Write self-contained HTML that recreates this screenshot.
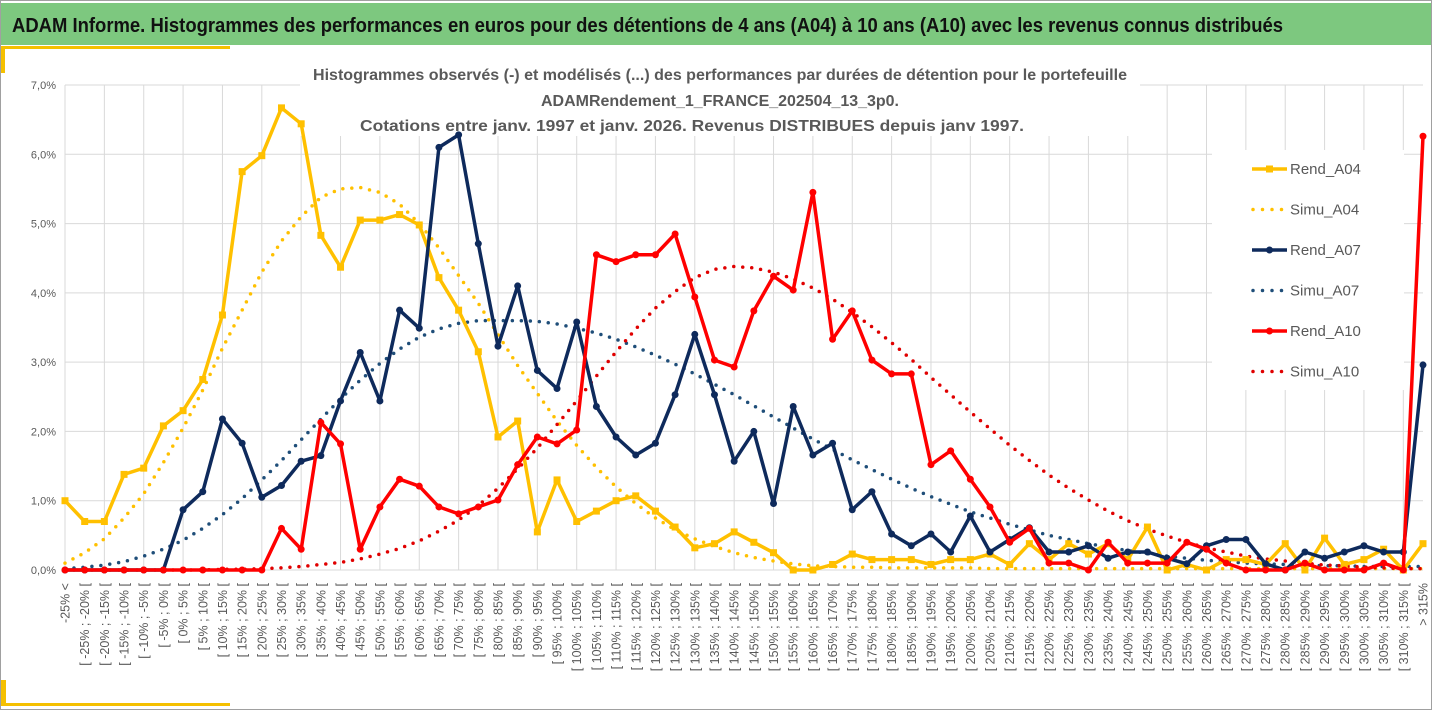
<!DOCTYPE html>
<html><head><meta charset="utf-8"><style>
html,body{margin:0;padding:0;background:#fff;}
svg{display:block;font-family:"Liberation Sans",sans-serif;}
</style></head><body>
<svg id="chart" width="1432" height="710" viewBox="0 0 1432 710">
<rect x="0.5" y="0.5" width="1431" height="709" fill="#fff" stroke="#a0a0a0"/>
<rect x="1" y="3" width="1430" height="42" fill="#7dc87f"/>
<text x="12" y="32" font-size="20" font-weight="bold" fill="#111" textLength="1271" lengthAdjust="spacingAndGlyphs">ADAM Informe. Histogrammes des performances en euros pour des détentions de 4 ans (A04) à 10 ans (A10) avec les revenus connus distribués</text>
<rect x="1" y="46" width="229" height="3" fill="#f5c000"/>
<rect x="1" y="46" width="4" height="27" fill="#f5c000"/>
<rect x="1" y="703" width="229" height="3" fill="#f5c000"/>
<rect x="1" y="680" width="5" height="26" fill="#f5c000"/>
<g id="grid"></g>
<g id="yaxis"></g>
<g id="xaxis"></g>
<rect x="300" y="60" width="840" height="76" fill="#fff"/>
<g fill="#595959" font-weight="bold" font-size="16" text-anchor="start">
<text x="313" y="80" textLength="814" lengthAdjust="spacingAndGlyphs">Histogrammes observés (-) et modélisés (...) des performances par durées de détention pour le portefeuille</text>
<text x="541" y="106" textLength="358" lengthAdjust="spacingAndGlyphs">ADAMRendement_1_FRANCE_202504_13_3p0.</text>
<text x="360" y="131" textLength="664" lengthAdjust="spacingAndGlyphs">Cotations entre janv. 1997 et janv. 2026. Revenus DISTRIBUES depuis janv 1997.</text>
</g>
<rect x="1212" y="150" width="192" height="240" fill="#fff"/>
<g id="series"></g>
<g id="legend"></g>
</svg>
<script>
const categories = ["-25% <"];
for (let b = -25; b < 315; b += 5) categories.push("[ " + b + "% ; " + (b + 5) + "% [");
categories.push("> 315%");
const yTicks = [0,1,2,3,4,5,6,7];
const yTickLabels = ["0,0%","1,0%","2,0%","3,0%","4,0%","5,0%","6,0%","7,0%"];
const rendA04 = [1.0,0.7,0.7,1.38,1.47,2.08,2.3,2.75,3.68,5.75,5.98,6.67,6.44,4.83,4.37,5.05,5.05,5.13,4.98,4.22,3.75,3.15,1.92,2.15,0.55,1.3,0.7,0.85,1.0,1.07,0.85,0.62,0.32,0.38,0.55,0.4,0.25,0.0,0.0,0.08,0.23,0.15,0.15,0.15,0.08,0.15,0.15,0.23,0.08,0.38,0.15,0.38,0.23,0.38,0.15,0.62,0.0,0.08,0.0,0.15,0.15,0.08,0.38,0.0,0.46,0.08,0.15,0.3,0.0,0.38];
const simuA04 = [0.1,0.25,0.45,0.75,1.1,1.55,2.05,2.6,3.2,3.75,4.3,4.75,5.1,5.38,5.5,5.52,5.45,5.28,5.0,4.65,4.25,3.85,3.4,2.95,2.55,2.15,1.8,1.48,1.2,0.96,0.75,0.58,0.45,0.34,0.25,0.18,0.13,0.09,0.06,0.05,0.04,0.04,0.03,0.03,0.03,0.03,0.03,0.02,0.02,0.02,0.02,0.02,0.02,0.02,0.02,0.02,0.02,0.02,0.02,0.02,0.02,0.02,0.02,0.02,0.02,0.02,0.02,0.02,0.02,0.02];
const rendA07 = [0,0,0,0,0,0,0.87,1.13,2.18,1.83,1.05,1.22,1.57,1.65,2.44,3.14,2.44,3.75,3.49,6.1,6.28,4.71,3.23,4.1,2.88,2.62,3.58,2.36,1.92,1.66,1.83,2.53,3.4,2.53,1.57,2.0,0.96,2.36,1.66,1.83,0.87,1.13,0.52,0.35,0.52,0.26,0.78,0.26,0.44,0.61,0.26,0.26,0.35,0.17,0.26,0.26,0.17,0.09,0.35,0.44,0.44,0.09,0.0,0.26,0.17,0.26,0.35,0.26,0.26,2.96];
const simuA07 = [0.02,0.04,0.07,0.12,0.2,0.3,0.43,0.6,0.8,1.03,1.3,1.58,1.88,2.18,2.47,2.74,2.98,3.19,3.36,3.48,3.56,3.6,3.6,3.6,3.59,3.55,3.49,3.42,3.33,3.22,3.1,2.97,2.83,2.68,2.53,2.37,2.21,2.05,1.89,1.74,1.59,1.45,1.31,1.18,1.06,0.95,0.84,0.75,0.66,0.58,0.5,0.44,0.38,0.33,0.28,0.24,0.2,0.17,0.14,0.12,0.1,0.09,0.08,0.07,0.06,0.06,0.05,0.05,0.05,0.05];
const rendA10 = [0,0,0,0,0,0,0,0,0,0,0,0.6,0.3,2.13,1.82,0.3,0.91,1.31,1.21,0.91,0.81,0.91,1.01,1.52,1.92,1.82,2.02,4.55,4.45,4.55,4.55,4.85,3.94,3.03,2.93,3.74,4.24,4.04,5.45,3.33,3.74,3.03,2.83,2.83,1.52,1.72,1.31,0.91,0.4,0.6,0.1,0.1,0.0,0.4,0.1,0.1,0.1,0.4,0.3,0.1,0.0,0.0,0.0,0.1,0.0,0.0,0.0,0.1,0.0,6.26];
const simuA10 = [0,0,0,0,0,0,0,0,0.01,0.01,0.02,0.03,0.05,0.08,0.11,0.16,0.23,0.31,0.42,0.56,0.72,0.93,1.18,1.46,1.76,2.1,2.44,2.8,3.15,3.48,3.78,4.02,4.22,4.34,4.38,4.36,4.3,4.2,4.07,3.91,3.72,3.51,3.28,3.04,2.78,2.53,2.28,2.04,1.8,1.58,1.37,1.18,1.01,0.85,0.71,0.59,0.49,0.4,0.32,0.26,0.2,0.16,0.13,0.1,0.07,0.06,0.04,0.03,0.02,0.02];

const NS = "http://www.w3.org/2000/svg";
const X0 = 65, X1 = 1423, Y0 = 570, Y7 = 85;
const xs = i => X0 + i * (X1 - X0) / (categories.length - 1);
const ys = v => Y0 - v * (Y0 - Y7) / 7;
function mk(tag, attrs, parent) { const e = document.createElementNS(NS, tag); for (const k in attrs) e.setAttribute(k, attrs[k]); parent.appendChild(e); return e; }

const grid = document.getElementById("grid");
yTicks.forEach(t => {
  const l = mk("line", {x1: X0, x2: X1, y1: ys(t), y2: ys(t), stroke: "#d9d9d9", "stroke-width": 1}, grid);
  
  
});
for (let i = 0; i < categories.length; i += 2) {
  const l = mk("line", {x1: xs(i), x2: xs(i), y1: Y7, y2: Y0, stroke: "#d9d9d9", "stroke-width": 1}, grid);
  
  
}
const yaxis = document.getElementById("yaxis");
yTicks.forEach((t, k) => {
  const tx = mk("text", {x: 56, y: ys(t) + 4, "text-anchor": "end", "font-size": 11, fill: "#595959"}, yaxis);
  tx.textContent = yTickLabels[k];
  
  
});
const xaxis = document.getElementById("xaxis");
categories.forEach((c, i) => {
  const x = xs(i) + 4.5, y = 583;
  const tx = mk("text", {x: x, y: y, "text-anchor": "end", "font-size": 12.5, fill: "#595959", transform: `rotate(-90 ${x} ${y})`}, xaxis);
  tx.textContent = c;
  
  
});

const series = document.getElementById("series");
function pts(arr) { return arr.map((v, i) => xs(i).toFixed(1) + "," + ys(v).toFixed(1)).join(" "); }
function dotted(arr, color, name) {
  const p = mk("polyline", {points: pts(arr), fill: "none", stroke: color, "stroke-width": 3.5, "stroke-dasharray": "0 9", "stroke-linecap": "round"}, series);
  
  
}
function solid(arr, color, name, marker) {
  const g = mk("g", {}, series);
  
  
  mk("polyline", {points: pts(arr), fill: "none", stroke: color, "stroke-width": 3.5, "stroke-linejoin": "round"}, g);
  arr.forEach((v, i) => {
    let m;
    if (marker === "square") m = mk("rect", {x: xs(i) - 3.5, y: ys(v) - 3.5, width: 7, height: 7, fill: color}, g);
    else m = mk("circle", {cx: xs(i), cy: ys(v), r: 3.5, fill: color}, g);
    
    
  });
}
const cY = "#ffc000", cN = "#0e2a5c", cNd = "#1f4e79", cR = "#ff0000";
dotted(simuA04, cY, "simu-a04-line");
dotted(simuA07, cNd, "simu-a07-line");
dotted(simuA10, "#e00000", "simu-a10-line");
solid(rendA04, cY, "rend-a04-line", "square");
solid(rendA07, cN, "rend-a07-line", "circle");
solid(rendA10, cR, "rend-a10-line", "circle");

const legend = document.getElementById("legend");
const items = [["Rend_A04", cY, "solid", "square"], ["Simu_A04", cY, "dot"], ["Rend_A07", cN, "solid", "circle"], ["Simu_A07", cNd, "dot"], ["Rend_A10", cR, "solid", "circle"], ["Simu_A10", "#e00000", "dot"]];
items.forEach((it, k) => {
  const y = 169 + k * 40.5;
  const g = mk("g", {}, legend);
  
  
  if (it[2] === "solid") {
    mk("line", {x1: 1252, x2: 1287, y1: y, y2: y, stroke: it[1], "stroke-width": 3.5}, g);
    if (it[3] === "square") mk("rect", {x: 1266, y: y - 3.5, width: 7, height: 7, fill: it[1]}, g);
    else mk("circle", {cx: 1269.5, cy: y, r: 3.5, fill: it[1]}, g);
  } else {
    mk("line", {x1: 1253, x2: 1282, y1: y, y2: y, stroke: it[1], "stroke-width": 3.5, "stroke-dasharray": "0 9.5", "stroke-linecap": "round"}, g);
  }
  const t = mk("text", {x: 1290, y: y + 5, "font-size": 15, fill: "#595959"}, g);
  t.textContent = it[0];
});
</script>
</body></html>
